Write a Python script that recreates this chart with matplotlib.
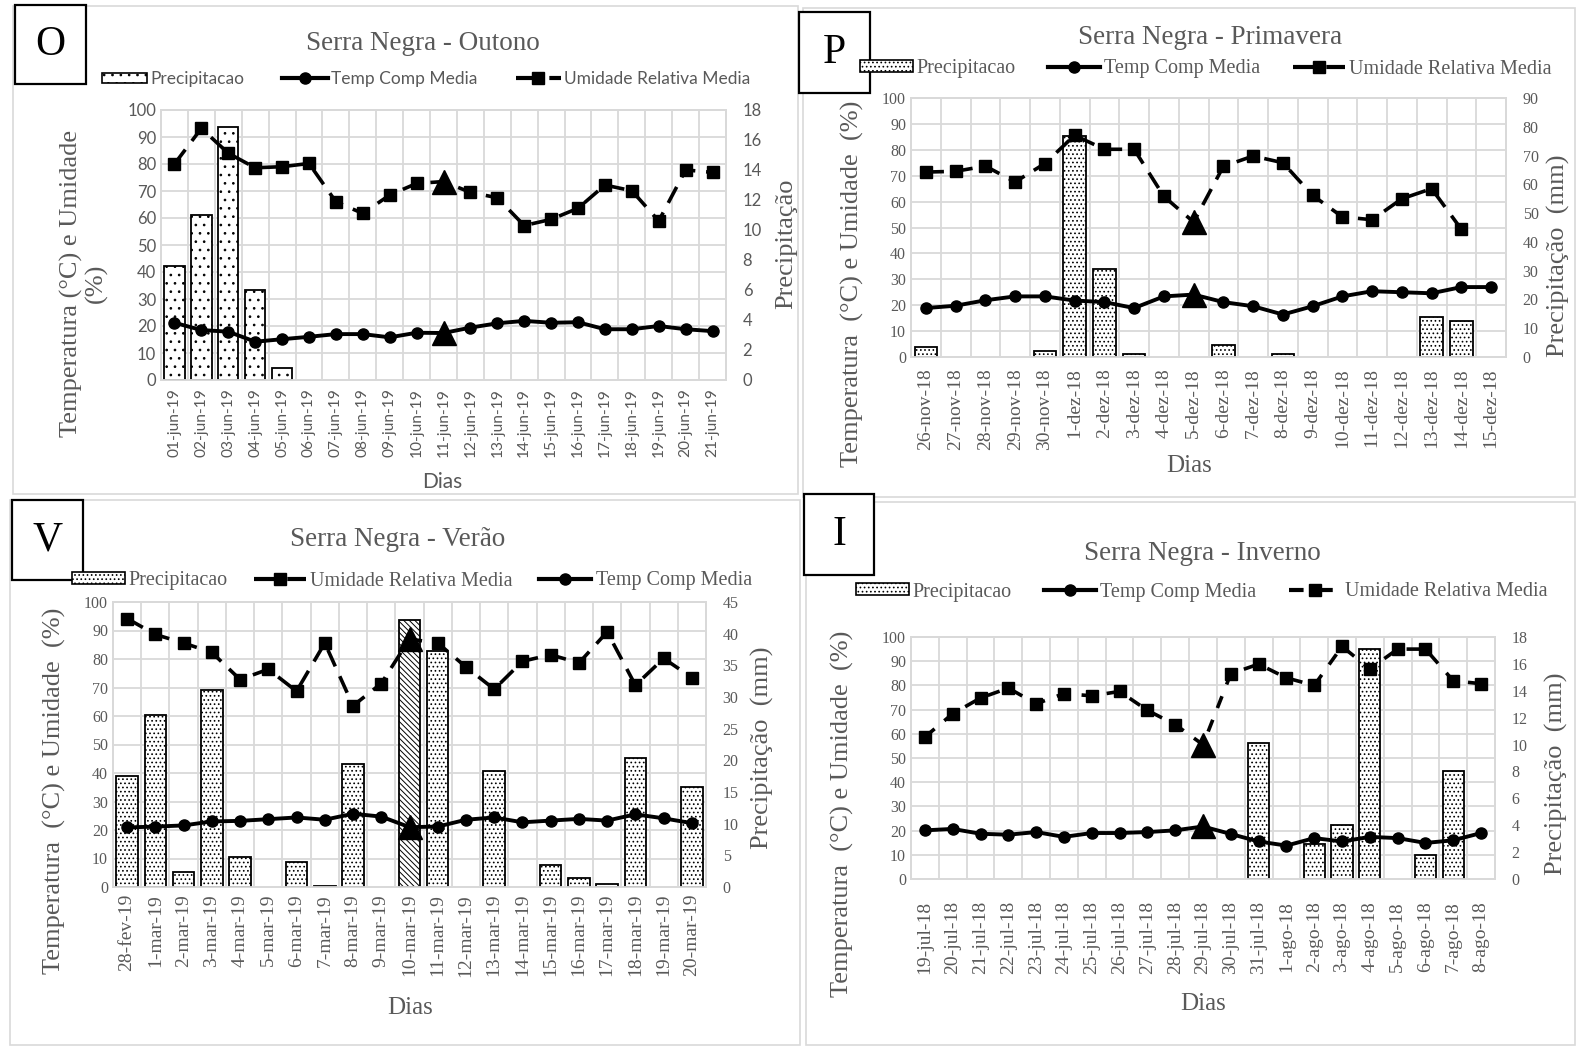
import numpy as np
import matplotlib
matplotlib.use('Agg')
import matplotlib.pyplot as plt
from matplotlib.patches import Rectangle
from matplotlib.lines import Line2D

W, H = 1576, 1046
CINZA = '#595959'
GRADE = '#d9d9d9'
SERIF = 'Liberation Serif'
SANS = 'Lato'

plt.rcParams['hatch.linewidth'] = 0.7

# ---- Outono (jun/2019) ----
dias_o = ['01-jun-19', '02-jun-19', '03-jun-19', '04-jun-19', '05-jun-19', '06-jun-19', '07-jun-19',
          '08-jun-19', '09-jun-19', '10-jun-19', '11-jun-19', '12-jun-19', '13-jun-19', '14-jun-19',
          '15-jun-19', '16-jun-19', '17-jun-19', '18-jun-19', '19-jun-19', '20-jun-19', '21-jun-19']
prec_o = [7.6, 11.0, 16.9, 6.0, 0.8, 0, 0, 0, 0, 0, 0, 0, 0, 0, 0, 0, 0, 0, 0, 0, 0]
temp_o = [21.2, 18.5, 17.9, 14.2, 15.1, 16.0, 17.0, 17.0, 15.8, 17.5, 17.4, 19.4, 21.0, 21.9,
          21.2, 21.4, 18.8, 18.8, 20.0, 18.8, 18.1]
umid_o = [80.0, 93.2, 84.0, 78.6, 79.0, 80.2, 66.0, 61.7, 68.5, 72.8, 73.5, 69.5, 67.5, 57.2,
          59.5, 63.6, 72.2, 70.1, 58.9, 77.8, 76.9]

# ---- Primavera (nov-dez/2018) ----
dias_p = ['26-nov-18', '27-nov-18', '28-nov-18', '29-nov-18', '30-nov-18', '1-dez-18', '2-dez-18',
          '3-dez-18', '4-dez-18', '5-dez-18', '6-dez-18', '7-dez-18', '8-dez-18', '9-dez-18',
          '10-dez-18', '11-dez-18', '12-dez-18', '13-dez-18', '14-dez-18', '15-dez-18']
prec_p = [3.5, 0, 0, 0, 2.0, 76.7, 30.6, 1.0, 0, 0, 4.3, 0, 1.0, 0, 0, 0, 0, 14.0, 12.4, 0]
temp_p = [18.9, 19.8, 21.9, 23.4, 23.4, 21.8, 21.2, 18.9, 23.4, 24.1, 21.2, 19.6, 16.4, 19.6,
          23.4, 25.4, 25.0, 24.6, 27.0, 27.0]
umid_p = [71.4, 71.7, 73.7, 67.6, 74.7, 85.6, 80.2, 80.2, 62.0, 52.1, 73.6, 77.6, 75.0, 62.4,
          54.1, 53.0, 61.1, 65.0, 49.3, np.nan]

# ---- Verao (fev-mar/2019) ----
dias_v = ['28-fev-19', '1-mar-19', '2-mar-19', '3-mar-19', '4-mar-19', '5-mar-19', '6-mar-19',
          '7-mar-19', '8-mar-19', '9-mar-19', '10-mar-19', '11-mar-19', '12-mar-19', '13-mar-19',
          '14-mar-19', '15-mar-19', '16-mar-19', '17-mar-19', '18-mar-19', '19-mar-19', '20-mar-19']
prec_v = [17.6, 27.1, 2.3, 31.1, 4.8, 0, 3.9, 0.2, 19.4, 0, 42.1, 37.2, 0, 18.3, 0, 3.4, 1.4,
          0.4, 20.4, 0, 15.8]
temp_v = [20.9, 21.2, 21.6, 23.0, 23.2, 23.8, 24.4, 23.6, 25.7, 24.7, 21.0, 21.2, 23.6, 24.4,
          22.7, 23.3, 23.9, 23.3, 25.5, 24.1, 22.4]
umid_v = [94.2, 88.6, 85.6, 82.3, 72.8, 76.4, 68.7, 85.6, 63.6, 71.4, 87.0, 85.6, 77.2, 69.4,
          79.2, 81.5, 78.6, 89.5, 70.8, 80.2, 73.5]

# ---- Inverno (jul-ago/2018) ----
dias_i = ['19-jul-18', '20-jul-18', '21-jul-18', '22-jul-18', '23-jul-18', '24-jul-18', '25-jul-18',
          '26-jul-18', '27-jul-18', '28-jul-18', '29-jul-18', '30-jul-18', '31-jul-18', '1-ago-18',
          '2-ago-18', '3-ago-18', '4-ago-18', '5-ago-18', '6-ago-18', '7-ago-18', '8-ago-18']
prec_i = [0, 0, 0, 0, 0, 0, 0, 0, 0, 0, 0, 0, 10.1, 0, 2.6, 4.0, 17.1, 0, 1.8, 8.0, 0]
temp_i = [20.1, 20.7, 18.7, 18.3, 19.4, 17.4, 19.0, 19.0, 19.4, 20.1, 21.7, 18.6, 15.5, 13.8,
          16.9, 15.5, 17.4, 16.9, 14.9, 16.0, 19.0]
umid_i = [58.7, 68.3, 74.8, 78.9, 72.4, 76.6, 75.7, 77.5, 69.7, 63.8, 55.5, 84.8, 88.8, 83.1,
          80.0, 96.1, 86.8, 95.0, 95.0, 81.9, 80.7]

fig = plt.figure(figsize=(W / 100, H / 100), dpi=100)


def fx(x):
    return x / W


def fy(y):
    return 1 - y / H


def caixa(x0, y0, x1, y1, **kw):
    fig.add_artist(Rectangle((fx(x0), fy(y1)), fx(x1) - fx(x0), fy(y0) - fy(y1),
                             transform=fig.transFigure, **kw))


def painel(area, dias, prec, temp, umid, destaque, pmax, pstep, titulo, letra, caixa_letra,
           pos_titulo, pos_leg, ordem_leg, ylabel, pos_ylabel, rlabel, pos_rlabel, pos_dias,
           fonte_tick, tam_xtick, tam_ytick, fonte_leg, tam_leg, hachura, tracejado,
           barra_destaque=None, fonte_dias=SERIF, col_leg=1.6, xpad=4):
    l, t, r, b = area
    ax = fig.add_axes([fx(l), fy(b), fx(r) - fx(l), fy(t) - fy(b)])
    ax2 = ax.twinx()
    ax3 = ax.twinx()
    n = len(dias)
    x = np.arange(n)

    ax.set_xlim(-0.5, n - 0.5)
    ax.set_ylim(0, 100)
    ax.set_yticks(range(0, 101, 10))
    ax.set_xticks(x)
    ax.set_xticklabels(dias, rotation=90)
    ax.set_xticks(np.arange(-0.5, n, 1), minor=True)
    ax.grid(True, which='minor', axis='x', color=GRADE, lw=1.3)
    ax.grid(True, which='major', axis='y', color=GRADE, lw=1.3)
    ax.set_axisbelow(True)
    ax.tick_params(which='both', length=0, colors=CINZA)
    ax.tick_params(axis='x', pad=xpad)
    for lab in ax.get_xticklabels():
        lab.set_family(fonte_tick); lab.set_fontsize(tam_xtick)
    for lab in ax.get_yticklabels():
        lab.set_family(fonte_tick); lab.set_fontsize(tam_ytick)

    # precipitacao no eixo direito
    p = np.array(prec, dtype=float)
    tem = p > 0
    ax2.set_ylim(0, pmax)
    ax2.set_yticks(np.arange(0, pmax + 0.01, pstep))
    barras = ax2.bar(x[tem], p[tem], width=0.76, color='white', edgecolor='black', lw=1.3,
                     hatch=hachura)
    if barra_destaque is not None:
        k = list(x[tem]).index(barra_destaque)
        barras[k].set_hatch('\\\\\\\\\\\\')
    ax2.tick_params(length=0, colors=CINZA, pad=12)
    for lab in ax2.get_yticklabels():
        lab.set_family(fonte_tick); lab.set_fontsize(tam_ytick)
    for a in (ax, ax2):
        for s in a.spines.values():
            s.set_color(GRADE)
            s.set_linewidth(1.3)

    # linhas de temperatura e umidade por cima das barras
    ax3.set_ylim(0, 100)
    ax3.axis('off')
    marcas = [i for i in range(n) if i != destaque]
    ax3.plot(x, umid, color='black', lw=2.6, ls=tracejado, marker='s', ms=9, markevery=marcas)
    ax3.plot(x, temp, color='black', lw=2.8, marker='o', ms=8, markevery=marcas)
    ax3.plot([destaque, destaque], [temp[destaque], umid[destaque]], ls='none', marker='^',
             ms=17, color='black')

    # legenda
    h_prec = Rectangle((0, 0), 1, 1, fc='white', ec='black', lw=1.2, hatch=hachura)
    h_temp = Line2D([], [], color='black', lw=3, marker='o', ms=8)
    h_umid = Line2D([], [], color='black', lw=3, ls=tracejado, marker='s', ms=9)
    itens = {'Precipitacao': h_prec, 'Temp Comp Media': h_temp,
             'Umidade Relativa Media': h_umid}
    fig.legend([itens[k] for k in ordem_leg], ordem_leg, loc='center',
               bbox_to_anchor=(fx(pos_leg[0]), fy(pos_leg[1])), ncol=3, frameon=False,
               handlelength=2.6, handleheight=0.55, handletextpad=0.2, columnspacing=col_leg,
               prop={'family': fonte_leg, 'size': tam_leg}, labelcolor=CINZA)

    fig.text(fx(pos_titulo[0]), fy(pos_titulo[1]), titulo, ha='center', va='center',
             family=SERIF, fontsize=19.5, color=CINZA)
    fig.text(fx(pos_ylabel[0]), fy(pos_ylabel[1]), ylabel, ha='center', va='center',
             rotation=90, family=SERIF, fontsize=19, color=CINZA, linespacing=1.1)
    fig.text(fx(pos_rlabel[0]), fy(pos_rlabel[1]), rlabel, ha='center', va='center',
             rotation=90, family=SERIF, fontsize=19, color=CINZA)
    fig.text(fx(pos_dias[0]), fy(pos_dias[1]), 'Dias', ha='center', va='center',
             family=fonte_dias, fontsize=18 if fonte_dias == SERIF else 15, color=CINZA)

    # caixa com a letra do painel
    x0, y0, x1, y1 = caixa_letra
    caixa(x0, y0, x1, y1, fc='white', ec='black', lw=1.6, zorder=5)
    fig.text(fx((x0 + x1) / 2), fy((y0 + y1) / 2), letra, ha='center', va='center',
             family=SERIF, fontsize=30, color='black', zorder=6)


# bordas cinza de cada grafico
caixa(13, 6, 798, 494, fill=False, ec=GRADE, lw=1.2)
caixa(803, 8, 1575, 497, fill=False, ec=GRADE, lw=1.2)
caixa(10, 500, 800, 1045, fill=False, ec=GRADE, lw=1.2)
caixa(806, 502, 1575, 1045, fill=False, ec=GRADE, lw=1.2)

painel((161, 110, 726, 380), dias_o, prec_o, temp_o, umid_o, 10, 18, 2,
       'Serra Negra - Outono', 'O', (15, 5, 86, 84), (423, 44), (426, 79),
       ['Precipitacao', 'Temp Comp Media', 'Umidade Relativa Media'],
       'Temperatura (°C) e Umidade\n(%)', (84, 283), 'Precipitação', (786, 244), (442, 482),
       SANS, 11.2, 12, SANS, 12.5, '..', (0, (5, 3)), fonte_dias=SANS, col_leg=2.2, xpad=6)

painel((911, 98, 1506, 357), dias_p, prec_p, temp_p, umid_p, 9, 90, 10,
       'Serra Negra - Primavera', 'P', (799, 12, 870, 93), (1210, 37), (1206, 69),
       ['Precipitacao', 'Temp Comp Media', 'Umidade Relativa Media'],
       'Temperatura  (°C) e Umidade  (%)', (852, 284), 'Precipitação  (mm)', (1558, 256),
       (1189, 466), SERIF, 14, 11.5, SERIF, 14.5, '....', (0, (5, 3)), xpad=8)

painel((113, 602, 706, 887), dias_v, prec_v, temp_v, umid_v, 10, 45, 5,
       'Serra Negra - Verão', 'V', (12, 500, 83, 580), (398, 540), (412, 581),
       ['Precipitacao', 'Umidade Relativa Media', 'Temp Comp Media'],
       'Temperatura  (°C) e Umidade  (%)', (54, 791), 'Precipitação  (mm)', (762, 748),
       (410, 1008), SERIF, 14, 11.5, SERIF, 14.5, '....', (0, (5, 3)), barra_destaque=10,
       col_leg=1.3, xpad=5)

painel((911, 637, 1495, 879), dias_i, prec_i, temp_i, umid_i, 10, 18, 2,
       'Serra Negra - Inverno', 'I', (804, 494, 874, 575), (1202, 554), (1202, 592),
       ['Precipitacao', 'Temp Comp Media', 'Umidade Relativa Media'],
       'Temperatura  (°C) e Umidade  (%)', (842, 814), 'Precipitação  (mm)', (1556, 774),
       (1203, 1004), SERIF, 14, 11.5, SERIF, 14.5, '....', (0, (3.5, 3.5)), xpad=16)

fig.savefig('out.png', dpi=100)
